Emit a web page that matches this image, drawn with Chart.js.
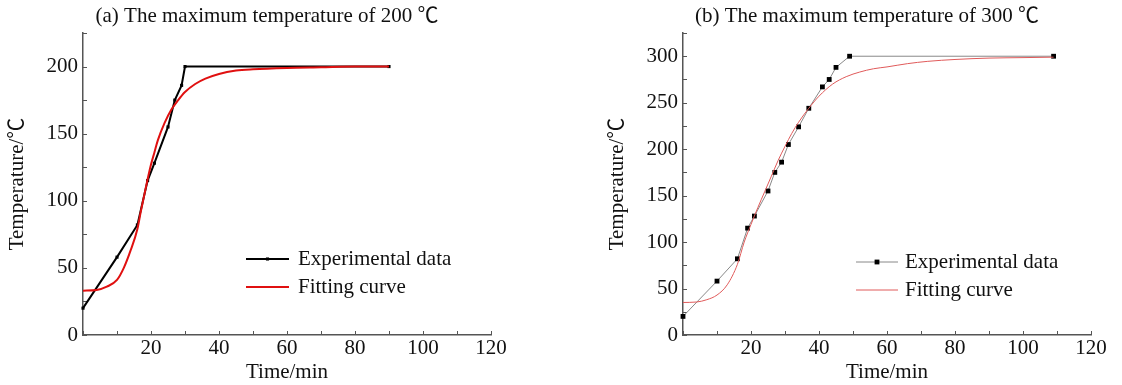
<!DOCTYPE html>
<html lang="en">
<head>
<meta charset="UTF-8">
<title>Heating curves at 200 ℃ and 300 ℃</title>
<style>
  html, body { margin: 0; padding: 0; background: #fff; overflow: hidden; }
  .panel { position: absolute; top: 0; }
  #panelA { left: 0; }
  #panelB { left: 600px; }
</style>
</head>
<body>
<canvas id="panelA" class="panel" width="534" height="385"></canvas>
<canvas id="panelB" class="panel" width="534" height="385"></canvas>

<script src="https://cdn.jsdelivr.net/npm/chart.js"></script>
<script>
// (a) maximum temperature 200 ℃
const expTimeA = [0, 10, 16, 19, 21, 25, 27, 29, 30, 90];
const expTempA = [20, 58, 82, 115, 128, 155, 175, 186, 200, 200];
const fitTimeA = [0, 4, 7, 10, 12, 14, 16, 17, 18, 19, 20, 21, 22, 24, 26, 28, 30, 33, 36, 40, 45, 50, 60, 70, 80, 90];
const fitTempA = [33, 33.5, 36, 41, 50, 63, 79, 92, 104, 116, 127, 136, 145, 158, 168, 175, 181, 187, 191, 194.5, 197, 198, 199, 199.5, 200, 200];

// (b) maximum temperature 300 ℃
const expTimeB = [0, 10, 16, 19, 21, 25, 27, 29, 31, 34, 37, 41, 43, 45, 49, 109];
const expTempB = [20, 58, 82, 115, 128, 155, 175, 186, 205, 224, 244, 267, 275, 288, 300, 300];
const fitTimeB = [0, 4, 7, 10, 13, 16, 18, 20, 22, 24, 26, 28, 30, 32, 34, 37, 40, 44, 48, 52, 56, 60, 66, 72, 80, 90, 100, 109];
const fitTempB = [35, 35.5, 38, 43, 54, 76, 100, 119, 137, 154, 171, 188, 203, 217, 229, 244, 257, 270, 278, 283, 286.5, 288.5, 292, 294.5, 296.5, 298, 298.5, 299];

// labelled tick values
const timeLabels = [20, 40, 60, 80, 100, 120];
const tempLabelsA = [0, 50, 100, 150, 200];
const tempLabelsB = [0, 50, 100, 150, 200, 250, 300];

const SERIF = "'Liberation Serif', 'Noto Sans CJK SC', serif";
const TEXT = '#111';
const AXIS = '#555';

Chart.defaults.font.family = SERIF;
Chart.defaults.font.size = 21;
Chart.defaults.color = TEXT;

const toPoints = (xs, ys) => xs.map((x, i) => ({ x, y: ys[i] }));

// panel caption, centred on the whole canvas
const panelTitle = {
  id: 'panelTitle',
  afterDraw(chart, args, opts) {
    const { ctx } = chart;
    ctx.save();
    ctx.fillStyle = TEXT;
    ctx.font = '21px ' + SERIF;
    ctx.textAlign = 'center';
    ctx.textBaseline = 'middle';
    ctx.fillText(opts.text, chart.width / 2, opts.y);
    ctx.restore();
  }
};

// short tick marks pointing into the plot
const inwardTicks = {
  id: 'inwardTicks',
  beforeDatasetsDraw(chart) {
    const { ctx, chartArea, scales } = chart;
    ctx.save();
    ctx.strokeStyle = AXIS;
    ctx.lineWidth = 1;
    ctx.beginPath();
    scales.x.ticks.forEach(t => {
      const px = Math.round(scales.x.getPixelForValue(t.value)) + 0.5;
      ctx.moveTo(px, chartArea.bottom);
      ctx.lineTo(px, chartArea.bottom - 4);
    });
    scales.y.ticks.forEach(t => {
      const py = Math.round(scales.y.getPixelForValue(t.value)) + 0.5;
      ctx.moveTo(chartArea.left, py);
      ctx.lineTo(chartArea.left + 4, py);
    });
    ctx.stroke();
    ctx.restore();
  }
};

// legend with line sample + marker, placed inside the plot
const curveLegend = {
  id: 'curveLegend',
  afterDatasetsDraw(chart, args, opts) {
    const { ctx, chartArea } = chart;
    const x0 = chartArea.left + opts.dx;
    const y0 = chartArea.top + opts.dy;
    chart.data.datasets.forEach((ds, i) => {
      const y = y0 + i * opts.rowGap;
      ctx.save();
      ctx.strokeStyle = ds.borderColor;
      ctx.lineWidth = ds.borderWidth;
      ctx.beginPath();
      ctx.moveTo(x0, y);
      ctx.lineTo(x0 + opts.lineLength, y);
      ctx.stroke();
      if (ds.pointRadius > 0) {
        const side = ds.pointRadius * Math.SQRT2;
        ctx.fillStyle = ds.pointBackgroundColor;
        ctx.fillRect(x0 + opts.lineLength / 2 - side / 2, y - side / 2, side, side);
      }
      ctx.fillStyle = TEXT;
      ctx.font = '21px ' + SERIF;
      ctx.textBaseline = 'middle';
      ctx.fillText(ds.label, x0 + opts.lineLength + opts.textGap, y);
      ctx.restore();
    });
  }
};

function makePanel(id, cfg) {
  new Chart(document.getElementById(id), {
    type: 'scatter',
    data: {
      datasets: [
        {
          label: 'Experimental data',
          data: toPoints(cfg.expTime, cfg.expTemp),
          showLine: true,
          tension: 0,
          borderColor: cfg.expLine,
          borderWidth: cfg.expWidth,
          pointStyle: 'rect',
          pointRadius: cfg.markerRadius,
          pointBackgroundColor: '#000',
          pointBorderColor: '#000',
          pointBorderWidth: 0,
          clip: false,
          order: 2
        },
        {
          label: 'Fitting curve',
          data: toPoints(cfg.fitTime, cfg.fitTemp),
          showLine: true,
          cubicInterpolationMode: 'monotone',
          borderColor: cfg.fitLine,
          borderWidth: cfg.fitWidth,
          pointRadius: 0,
          clip: false,
          order: 1
        }
      ]
    },
    options: {
      responsive: false,
      animation: false,
      devicePixelRatio: 1,
      layout: { padding: { left: 0, top: 33, right: 43, bottom: 0 } },
      plugins: {
        legend: { display: false },
        tooltip: { enabled: false },
        title: { display: false },
        panelTitle: { text: cfg.title, y: 16 },
        curveLegend: cfg.legend
      },
      scales: {
        x: {
          type: 'linear',
          min: 0,
          max: 120,
          afterFit: s => { s.height = 50; },
          grid: { display: false, drawTicks: false },
          border: { color: AXIS, width: 1.5 },
          ticks: {
            stepSize: 10,
            maxTicksLimit: 30,
            autoSkip: false,
            maxRotation: 0,
            padding: 1,
            callback: v => timeLabels.includes(v) ? String(v) : ''
          },
          title: { display: true, text: 'Time/min', padding: { top: 0, bottom: 0 } }
        },
        y: {
          min: 0,
          max: cfg.yMax,
          afterFit: s => { s.width = 83; },
          grid: { display: false, drawTicks: false },
          border: { color: AXIS, width: 1.5 },
          ticks: {
            stepSize: 25,
            maxTicksLimit: 30,
            autoSkip: false,
            padding: 5,
            callback: v => cfg.yLabels.includes(v) ? String(v) : ''
          },
          title: { display: true, text: 'Temperature/℃', padding: { top: 5, bottom: 0 } }
        }
      }
    },
    plugins: [panelTitle, inwardTicks, curveLegend]
  });
}

makePanel('panelA', {
  title: '(a) The maximum temperature of 200 ℃',
  expTime: expTimeA, expTemp: expTempA,
  fitTime: fitTimeA, fitTemp: fitTempA,
  yMax: 225, yLabels: tempLabelsA,
  expLine: '#000', expWidth: 2, markerRadius: 2.2,
  fitLine: '#e01010', fitWidth: 2,
  legend: { dx: 163, dy: 226, rowGap: 28, lineLength: 43, textGap: 9 }
});

makePanel('panelB', {
  title: '(b) The maximum temperature of 300 ℃',
  expTime: expTimeB, expTemp: expTempB,
  fitTime: fitTimeB, fitTemp: fitTempB,
  yMax: 325, yLabels: tempLabelsB,
  expLine: '#888', expWidth: 1, markerRadius: 3.4,
  fitLine: '#e05a5a', fitWidth: 1,
  legend: { dx: 173, dy: 229, rowGap: 28, lineLength: 42, textGap: 7 }
});
</script>
</body>
</html>
